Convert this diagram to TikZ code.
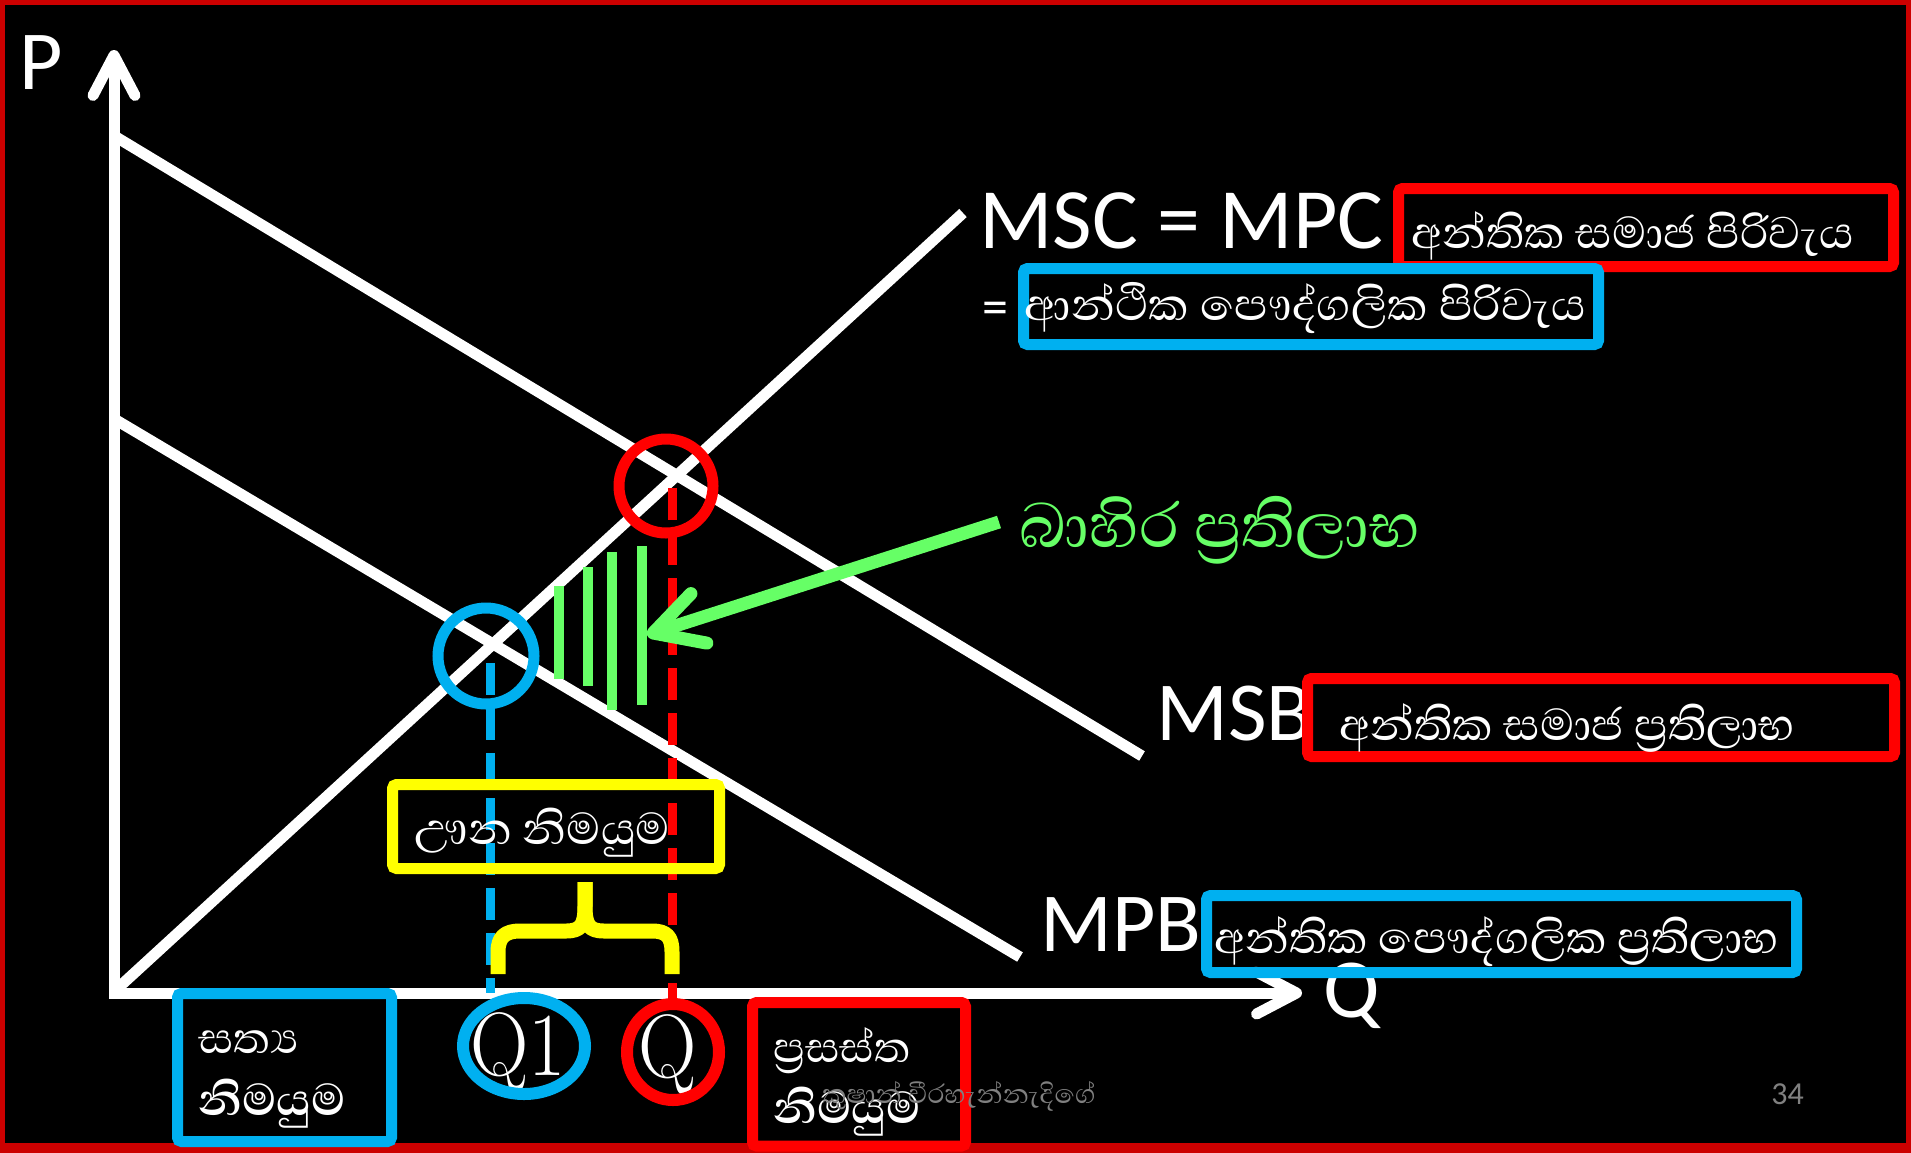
\documentclass[tikz,border=0pt]{standalone}
\usepackage{fontspec}
\usepackage{graphicx}
\usetikzlibrary{arrows.meta}
\newfontfamily\carl{Carlito}
\newfontfamily\sinhfont[Script=Sinhala]{Abhaya Libre}
\definecolor{rd}{RGB}{255,0,0}
\definecolor{bl}{RGB}{0,176,240}
\definecolor{yl}{RGB}{255,255,0}
\definecolor{gr}{RGB}{102,255,102}
\definecolor{fr}{RGB}{204,0,0}
\definecolor{ft}{RGB}{128,128,128}
\newcommand{\zwj}{^^^^200d}
\begin{document}
\begin{tikzpicture}[x=0.5pt,y=-0.5pt,
  wline/.style={white,line width=5.5pt},
  axisline/.style={white,line width=5.5pt,{Straight Barb[round,length=20pt,width=21pt]}-{Straight Barb[round,length=20pt,width=21pt]}},
  boxr/.style={draw=rd,line width=5.5pt,rounded corners=2pt},
  boxb/.style={draw=bl,line width=5.5pt,rounded corners=2pt},
  boxy/.style={draw=yl,line width=5.5pt,rounded corners=2pt},
  lab/.style={text=white,inner sep=0pt,anchor=base west,font=\carl\fontsize{42}{42}\selectfont},
  si/.style={text=white,inner sep=0pt,anchor=base west,font=\sinhfont\fontsize{28.5}{28.5}\selectfont},
  sis/.style={text=white,inner sep=0pt,anchor=base west,font=\sinhfont\fontsize{27.5}{27.5}\selectfont},
  sib/.style={text=white,inner sep=0pt,anchor=base west,font=\sinhfont\bfseries\fontsize{28.5}{28.5}\selectfont},
  qlab/.style={text=white,inner sep=0pt,anchor=base,font=\fontsize{45}{45}\selectfont},
  foot/.style={text=ft,inner sep=0pt,anchor=base west}]
\fill[black] (0,0) rectangle (1911,1152);
\useasboundingbox (0,0) rectangle (1911,1152);
% frame
\draw[fr,line width=5pt] (0,0) rectangle (1911,1152);
\fill[fr] (0,1143) rectangle (1911,1152);
% coordinates
\coordinate (ytip) at (114,50);
\coordinate (orig) at (114,993);
\coordinate (xtip) at (1302,993);
\coordinate (mscA) at (118,988);
\coordinate (mscB) at (963,213);
\coordinate (msbA) at (116,137);
\coordinate (msbB) at (1142,756);
\coordinate (mpbA) at (116,420);
\coordinate (mpbB) at (1020,957);
% axes
\draw[axisline,line join=miter] (ytip) -- (orig) -- (xtip);
% curves
\draw[wline] (mscA) -- (mscB);
\draw[wline] (msbA) -- (msbB);
\draw[wline] (mpbA) -- (mpbB);
% circles at intersections
\draw[bl,line width=5.5pt] (486,656) circle[radius=48];
\draw[rd,line width=5.5pt] (666,486) circle[radius=47];
% dashed lines
\draw[bl,line width=4.5pt,dash pattern=on 16pt off 6.5pt] (490,663) -- (490,993);
\draw[rd,line width=4.5pt,dash pattern=on 16pt off 6.5pt] (672,488) -- (672,1000);
% green hatching
\draw[gr,line width=5pt] (559,586) -- (559,679);
\draw[gr,line width=5pt] (588,567) -- (588,686);
\draw[gr,line width=5pt] (612,552) -- (612,710);
\draw[gr,line width=5pt] (642,546) -- (642,705);
% green arrow
\coordinate (ga) at (999,522);
\coordinate (gb) at (647,635);
\draw[gr,line width=6.5pt,-{Straight Barb[round,length=24pt,width=26pt]}] (ga) -- (gb);
% yellow brace
\draw[yl,line width=7.5pt,line join=round] (498,974) -- (498,952) .. controls (498,937) and (505,931) .. (520,931) -- (566,931) .. controls (581,931) and (585,925) .. (585,906) -- (585,882);
\draw[yl,line width=7.5pt,line join=round] (585,882) -- (585,906) .. controls (585,925) and (589,931) .. (604,931) -- (652,931) .. controls (667,931) and (672,937) .. (672,952) -- (672,974);
% latin labels
\node[lab] (P) at (19,89) {P};
\node[lab] (Qax) at (1323,1017) {Q};
\node[lab,font=\carl\fontsize{43}{43}\selectfont] (msc) at (979,248) {MSC = MPC};
\node[lab] (msb) at (1156,740) {MSB};
\node[lab] (mpb) at (1040,951) {MPB};
\node[text=white,inner sep=0pt,anchor=base west,font=\carl\fontsize{26}{26}\selectfont] (eq) at (982,324) {=};
\node[qlab] (q1) at (518,1075) {\scalebox{0.9}[1]{Q1}};
\node[qlab] (q) at (668,1077) {\scalebox{0.9}[1]{Q}};
% boxes
\draw[boxr] (1398.5,188.5) rectangle (1893.5,266.5);
\draw[boxb] (1023.5,268.5) rectangle (1598.5,344.5);
\draw[boxr] (1307.5,678.5) rectangle (1894.5,756.5);
\draw[boxb] (1206.5,895.5) rectangle (1796.5,972.5);
\draw[boxy] (392.5,784.5) rectangle (719.5,868.5);
\draw[boxb] (177.5,993.5) rectangle (391.5,1141.5);
\draw[boxr] (752.5,1002.5) rectangle (965.5,1146);
\draw[bl,line width=6pt] (524,1046) ellipse[x radius=61,y radius=48];
\draw[rd,line width=6pt] (673,1052) ellipse[x radius=46,y radius=48];
% sinhala texts
\node[si] (t1) at (1411,248) {අන්තික සමාජ පිරිවැය};
\node[si] (t2) at (1024,320) {ආන්ථික පෞද්ගලික පිරිවැය};
\node[si,text=gr,font=\sinhfont\fontsize{40}{40}\selectfont] (t3) at (1019,547) {බාහිර ප්\zwj රතිලාභ};
\node[si] (t4) at (1339,740) {අන්තික සමාජ ප්\zwj රතිලාභ};
\node[si] (t5) at (1214,953) {අන්තික පෞද්ගලික ප්\zwj රතිලාභ};
\node[si] (t6) at (414,844) {ඌන නිමයුම};
\node[sis] (t7a) at (198,1053) {සත්\zwj ය};
\node[sib] (t7b) at (198,1115) {නිමයුම};
\node[sis,font=\sinhfont\fontsize{27}{27}\selectfont] (t8a) at (773,1062) {ප්\zwj රසස්ත};
\node[sib] (t8b) at (773,1123) {නිමයුම};
\node[foot,font=\sinhfont\fontsize{17}{17}\selectfont] (t9) at (822,1103) {කුෂාන් වීරහැන්නැදිගේ};
\node[foot,font=\carl\fontsize{16}{16}\selectfont] (pg) at (1771,1104) {34};
\end{tikzpicture}
\end{document}
